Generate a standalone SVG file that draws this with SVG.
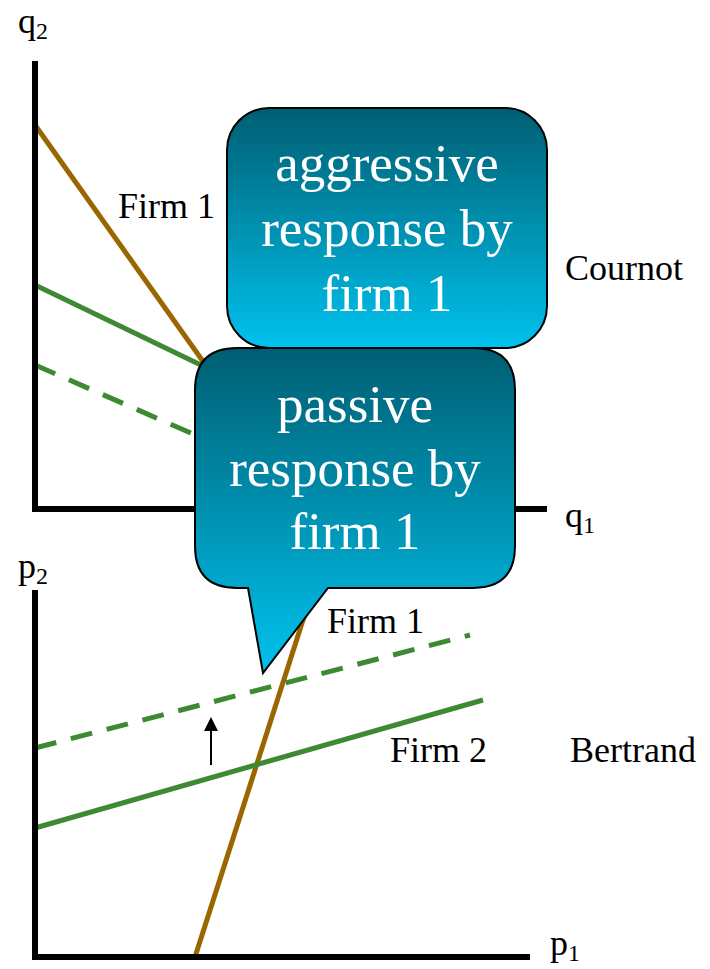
<svg xmlns="http://www.w3.org/2000/svg" width="710" height="969" viewBox="0 0 710 969">
<style>
text{font-family:"Times New Roman",Times,"Liberation Serif","DejaVu Serif","Noto Serif",serif;fill:#000}
.lbl{font-size:36px}
.sub{font-size:24px}
.axis{stroke:#000;stroke-width:6;fill:none}
.brown{stroke:#996600;stroke-width:5;fill:none}
.green{stroke:#3d8a33;stroke-width:5;fill:none}
.dash{stroke-dasharray:22 15}
.call{fill:url(#g);stroke:#000;stroke-width:2}
.ct{font-size:53px;fill:#fff;text-anchor:middle}
</style>
<defs>
<linearGradient id="g" x1="0" y1="0" x2="0" y2="1">
<stop offset="0" stop-color="#005e72"/>
<stop offset="1" stop-color="#00c2ee"/>
</linearGradient>
</defs>
<g id="connectors">
<line class="brown" x1="35" y1="125" x2="207" y2="367"/>
<line class="green" x1="35" y1="285" x2="205" y2="367"/>
<line class="green dash" x1="35" y1="365" x2="200" y2="437"/>
<line class="brown" x1="195" y1="957" x2="312" y2="592"/>
<line class="green dash" x1="35" y1="748" x2="470" y2="635"/>
<line class="green" x1="35" y1="828" x2="483" y2="700"/>
<line x1="211" y1="765" x2="211" y2="728" stroke="#000" stroke-width="2"/>
<polygon points="211,717 204,731 218,731" fill="#000"/>
</g>
<g id="axes">
<polyline class="axis" points="35,61 35,509 547,509"/>
<polyline class="axis" points="35,590 35,957 530,957"/>
</g>
<g id="labels">
<text class="lbl" x="18" y="33">q<tspan class="sub" dy="6">2</tspan></text>
<text class="lbl" x="565" y="527">q<tspan class="sub" dy="6">1</tspan></text>
<text class="lbl" x="18" y="578">p<tspan class="sub" dy="6">2</tspan></text>
<text class="lbl" x="550" y="955">p<tspan class="sub" dy="6">1</tspan></text>
<text class="lbl" x="118" y="218">Firm 1</text>
<text class="lbl" x="565" y="280">Cournot</text>
<text class="lbl" x="327" y="633">Firm 1</text>
<text class="lbl" x="390" y="762">Firm 2</text>
<text class="lbl" x="570" y="762">Bertrand</text>
</g>
<g id="aggressive">
<rect class="call" x="227" y="108" width="320" height="240" rx="42" ry="42"/>
<text class="ct" x="387" y="181">aggressive</text>
<text class="ct" x="387" y="246">response by</text>
<text class="ct" x="387" y="311">firm 1</text>
</g>
<g id="passive">
<path class="call" d="M237,348 H473 Q515,348 515,390 V546 Q515,588 473,588 H328 L263,673 L248,588 H237 Q195,588 195,546 V390 Q195,348 237,348 Z"/>
<text class="ct" x="355" y="422">passive</text>
<text class="ct" x="355" y="486">response by</text>
<text class="ct" x="355" y="549">firm 1</text>
</g>
</svg>
